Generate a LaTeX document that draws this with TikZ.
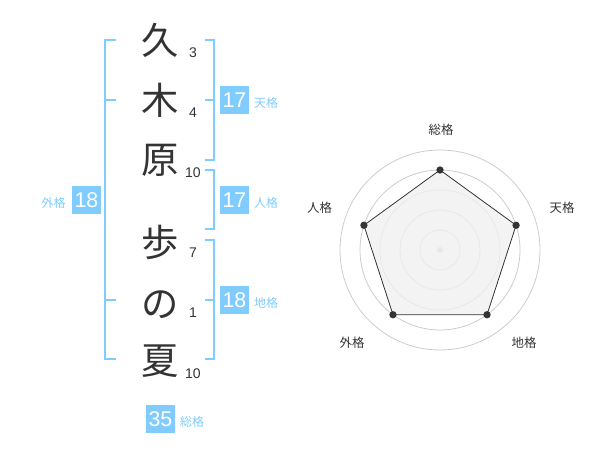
\documentclass[tikz,border=0pt]{standalone}
\usepackage{fontspec}
\usetikzlibrary{calc}
\setmainfont{Liberation Sans}
\newfontfamily\jp{Noto Sans CJK JP}
\definecolor{kblue}{RGB}{128,204,255}
\definecolor{ktext}{RGB}{51,51,51}
\definecolor{kgrid}{RGB}{204,204,204}
\definecolor{kfill}{RGB}{240,240,240}
\begin{document}
\begin{tikzpicture}[x=0.75pt,y=-0.75pt,
  kanji/.style={font=\jp\fontsize{28pt}{28pt}\selectfont,text=ktext,inner sep=0pt},
  stroke/.style={font=\fontsize{10.5pt}{10.5pt}\selectfont,text=ktext,inner sep=0pt},
  box/.style={fill=kblue,text=white,minimum width=21.75pt,minimum height=21pt,inner sep=0pt,font=\fontsize{16pt}{16pt}\selectfont},
  blabel/.style={text=kblue,inner sep=0pt,font=\jp\fontsize{9pt}{9pt}\selectfont},
  rlabel/.style={text=ktext,inner sep=0pt,font=\jp\fontsize{9.3pt}{9.3pt}\selectfont},
  brk/.style={draw=kblue,line width=1.5pt},
  grid/.style={draw=kgrid,line width=0.6pt},
  vdot/.style={circle,fill=ktext,inner sep=0pt,minimum size=5.5pt}
]
\useasboundingbox (0,0) rectangle (600,470);
% kanji
\node[kanji] (k1) at (160,40) {久};
\node[kanji] (k2) at (160,100) {木};
\node[kanji] (k3) at (160,160) {原};
\node[kanji] (k4) at (160,242) {歩};
\node[kanji] (k5) at (160,305) {の};
\node[kanji] (k6) at (160,361) {夏};
% stroke counts
\node[stroke] (s1) at (193,53) {3};
\node[stroke] (s2) at (193,113) {4};
\node[stroke] (s3) at (193,173) {10};
\node[stroke] (s4) at (193,253) {7};
\node[stroke] (s5) at (193,313) {1};
\node[stroke] (s6) at (193,374) {10};
% left bracket (外格)
\draw[brk] (116,40) -- (105,40) -- (105,359) -- (116,359);
\draw[brk] (105,100) -- (116,100);
\draw[brk] (105,300) -- (116,300);
% right brackets
\draw[brk] (205,40) -- (214,40) -- (214,160) -- (205,160);
\draw[brk] (205,100) -- (214,100);
\draw[brk] (205,170) -- (214,170) -- (214,229) -- (205,229);
\draw[brk] (205,240) -- (214,240) -- (214,359) -- (205,359);
\draw[brk] (205,300) -- (214,300);
% boxes
\node[box] (ten) at (234.5,100) {17};
\node[blabel] (tenl) at (266,103) {天格};
\node[box] (jin) at (234.5,200) {17};
\node[blabel] (jinl) at (266,203) {人格};
\node[box] (chi) at (234.5,300) {18};
\node[blabel] (chil) at (266,303) {地格};
\node[box] (gai) at (86.5,200) {18};
\node[blabel] (gail) at (53.5,203) {外格};
\node[box] (sou) at (160.5,419) {35};
\node[blabel] (soul) at (192,422) {総格};
% radar
\coordinate (c) at (440,250);
\foreach \r in {20,40,60,80,100} \draw[grid] (c) circle[radius=\r];
\fill[kgrid] (c) circle[radius=3];
\coordinate (p1) at ($(c)+(-90:80)$);
\coordinate (p2) at ($(c)+(-18:80)$);
\coordinate (p3) at ($(c)+(54:80)$);
\coordinate (p4) at ($(c)+(126:80)$);
\coordinate (p5) at ($(c)+(198:80)$);
\draw[fill=kfill,fill opacity=0.8,draw=ktext,line width=0.6pt] (p1) -- (p2) -- (p3) -- (p4) -- (p5) -- cycle;
\foreach \p in {p1,p2,p3,p4,p5} \node[vdot] at (\p) {};
\node[rlabel] (r1) at (441,130) {総格};
\node[rlabel] (r2) at (562,208) {天格};
\node[rlabel] (r3) at (524,343) {地格};
\node[rlabel] (r4) at (352,343) {外格};
\node[rlabel] (r5) at (319.5,208) {人格};
\end{tikzpicture}
\end{document}
